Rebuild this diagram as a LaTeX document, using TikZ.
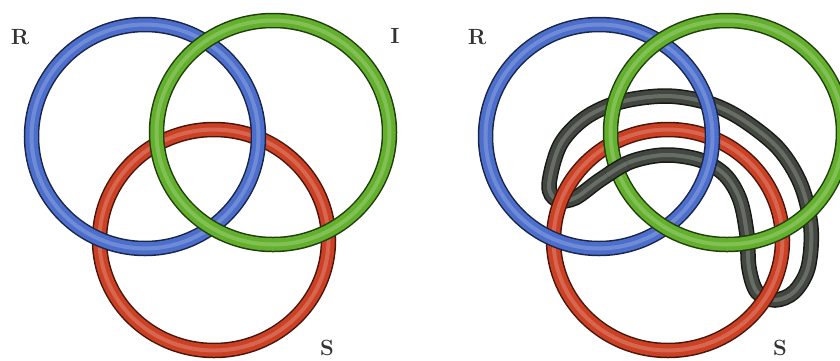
\documentclass[tikz,border=0pt]{standalone}
\usepackage{xcolor}
\usepackage{tikz}
\usetikzlibrary{positioning}
\definecolor{ringblue}{RGB}{76,110,204}
\definecolor{ringgreen}{RGB}{98,176,44}
\definecolor{ringred}{RGB}{204,64,36}
\definecolor{ringblack}{RGB}{66,72,64}
\tikzset{
  tubeedge/.style={line width=15.5pt, draw=#1!35!black},
  tubebody/.style={line width=12.5pt, draw=#1},
  tubeshine/.style={line width=4pt, draw=#1!55!white, opacity=0.45},
  lbl/.style={font=\fontsize{22}{22}\selectfont\bfseries, text=black!80}
}
\newcommand{\tube}[2]{%
  \draw[tubeedge=#1] #2; \draw[tubebody=#1] #2; \draw[tubeshine=#1] #2;}
\newcommand{\overat}[4]{%
  \begin{scope}\clip (#1,#2) circle (#3); #4 \end{scope}}
\def\ringR{(145,136.5) ellipse [x radius=113.5, y radius=112]}
\def\ringI{(273,132.5) ellipse [x radius=116.5, y radius=112]}
\def\ringS{(214,240) ellipse [x radius=114.5, y radius=110.5]}
\def\loopK{plot[smooth cycle, tension=0.55] coordinates {(95,185) (106,145)
  (131,118) (166,102) (211,96) (251,102) (286,118) (324,148) (347,185)
  (357,228) (354,268) (340,292) (321,300) (303,292) (295,268) (293,235)
  (286,200) (271,175) (246,160) (211,155) (176,162) (146,180) (121,198)
  (103,200)}}

\begin{document}
\begin{tikzpicture}[x=1pt, y=-1pt]
  \useasboundingbox[fill=white] (0,0) rectangle (840,360);

  % ── three rings, each lying on the next ─────────────────────────────
  \begin{scope}
    \tube{ringred}{\ringS}
    \tube{ringblue}{\ringR}
    \tube{ringgreen}{\ringI}
    \node[lbl] (labR) at (20,37) {R};
    \node[lbl] (labI) at (395,36) {I};
    \node[lbl] (labS) at (327,348) {S};
  \end{scope}

  % ── same rings with a fourth loop threaded through ──────────────────
  \begin{scope}[xshift=454pt]
    \tube{ringblack}{\loopK}
    \tube{ringred}{\ringS}
    \tube{ringblue}{\ringR}
    \tube{ringgreen}{\ringI}
    % black lies on green at the inner left crossing
    \overat{163}{169}{12}{\tube{ringblack}{\loopK}}
    \node[lbl] (labR2) at (23,37) {R};
    \node[lbl] (labS2) at (326,348) {S};
  \end{scope}
\end{tikzpicture}
\end{document}
